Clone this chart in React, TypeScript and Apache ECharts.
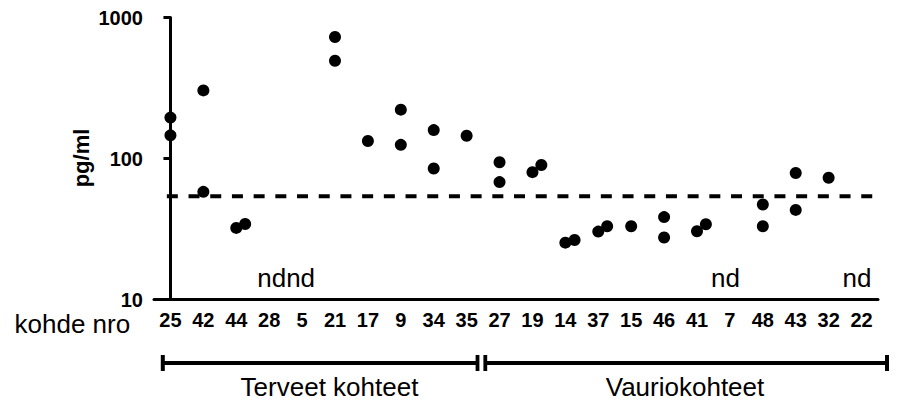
import React, { useEffect, useRef } from "react";
import * as echarts from "echarts";

const categories = ["25", "42", "44", "28", "5", "21", "17", "9", "34", "35", "27", "19", "14", "37", "15", "46", "41", "7", "48", "43", "32", "22"];
const pointSite = ["25", "25", "42", "42", "44", "44", "21", "21", "17", "9", "9", "34", "34", "35", "27", "27", "19", "19", "14", "14", "37", "37", "15", "46", "46", "41", "41", "48", "48", "43", "43", "32"];
const pointValue = [195, 146, 304, 58, 32.2, 34.3, 728, 494, 133, 222, 125, 159, 85, 145, 94, 68, 80, 90, 25.3, 26.4, 30.3, 33.1, 33.1, 38.4, 27.5, 30.5, 34.2, 47.2, 33.1, 79, 43.2, 73];
const pointJitter = [0, 0, 0, 0, 0, 0.27, 0, 0, 0, 0, 0, 0, 0, 0, 0, 0, 0, 0.27, 0, 0.28, 0, 0.27, 0, 0, 0, 0, 0.27, 0, 0, 0, 0, 0];
const ndSites = ["28", "5", "7", "22"];
const detectionLimit = 54;
const groupNames = ["Terveet kohteet", "Vauriokohteet"];

const FONT = "'Liberation Sans', Arial, Helvetica, sans-serif";

export default function App() {
  const ref = useRef<HTMLDivElement>(null);
  useEffect(() => {
    if (!ref.current) return;
    const chart = echarts.init(ref.current, null, { renderer: "svg" });
    const points = pointSite.map((s, i) => [categories.indexOf(s) + pointJitter[i], pointValue[i]]);
    const ndShift = [2.5, -1.5, -4.5, -4.5];
    const nd = ndSites.map((s, i) => ({
      value: [categories.indexOf(s), 14.1],
      label: { offset: [ndShift[i], 0] },
    }));
    const lastIdx = categories.length - 1;
    chart.setOption({
      animation: false,
      grid: { left: 154, right: 25, top: 17.5, bottom: 102.5, outerBoundsMode: "none" },
      xAxis: [
        {
          type: "category",
          data: categories,
          boundaryGap: true,
          axisLine: { lineStyle: { color: "#000", width: 3 } },
          axisTick: { alignWithLabel: true, length: 6, lineStyle: { color: "#000", width: 2.5 } },
          axisLabel: { color: "#000", fontFamily: FONT, fontWeight: "bold", fontSize: 20, margin: 10, interval: 0 },
          splitLine: { show: false },
        },
        {
          type: "value",
          min: -0.5,
          max: lastIdx + 0.5,
          show: false,
          splitLine: { show: false },
        },
      ],
      yAxis: {
        type: "log",
        logBase: 10,
        min: 10,
        max: 1000,
        splitNumber: 2,
        axisLine: { show: true, lineStyle: { color: "#000", width: 3 } },
        axisTick: { show: true, length: 7, lineStyle: { color: "#000", width: 3 } },
        minorTick: { show: false },
        axisLabel: {
          color: "#000",
          fontFamily: FONT,
          fontWeight: "bold",
          fontSize: 20,
          margin: 11,
          formatter: (v: number) => String(Math.round(v)),
        },
        splitLine: { show: false },
      },
      series: [
        {
          type: "line",
          xAxisIndex: 1,
          data: [[-0.11, detectionLimit], [lastIdx + 0.5, detectionLimit]],
          symbol: "none",
          lineStyle: { color: "#000", width: 4, type: [11, 10.7] },
          z: 2,
        },
        {
          type: "scatter",
          xAxisIndex: 1,
          data: points,
          symbol: "circle",
          symbolSize: 12,
          itemStyle: { color: "#000", opacity: 1 },
          z: 3,
        },
        {
          type: "scatter",
          xAxisIndex: 1,
          data: nd,
          symbolSize: 0,
          itemStyle: { color: "rgba(0,0,0,0)", opacity: 1 },
          label: {
            show: true,
            position: "inside",
            formatter: "nd",
            color: "#000",
            fontFamily: FONT,
            fontSize: 26,
          },
          z: 3,
        },
      ],
      graphic: [
        {
          type: "text",
          x: 81,
          y: 158,
          rotation: Math.PI / 2,
          style: { text: "pg/ml", font: `bold 22px ${FONT}`, fill: "#000", align: "center", verticalAlign: "middle" },
        },
        {
          type: "text",
          x: 14.5,
          y: 324,
          style: { text: "kohde nro", font: `26px ${FONT}`, fill: "#000", align: "left", verticalAlign: "middle" },
        },
        {
          type: "text",
          x: 329.5,
          y: 387,
          style: { text: groupNames[0], font: `26px ${FONT}`, fill: "#000", align: "center", verticalAlign: "middle" },
        },
        {
          type: "text",
          x: 685,
          y: 387,
          style: { text: groupNames[1], font: `26px ${FONT}`, fill: "#000", align: "center", verticalAlign: "middle" },
        },
        { type: "line", shape: { x1: 162.8, y1: 363, x2: 477.5, y2: 363 }, style: { stroke: "#000", lineWidth: 4 } },
        { type: "line", shape: { x1: 485.3, y1: 363, x2: 887, y2: 363 }, style: { stroke: "#000", lineWidth: 4 } },
        { type: "rect", shape: { x: 160.8, y: 355, width: 4, height: 16 }, style: { fill: "#000" } },
        { type: "rect", shape: { x: 475.6, y: 355, width: 3.8, height: 16 }, style: { fill: "#000" } },
        { type: "rect", shape: { x: 483.4, y: 355, width: 3.8, height: 16 }, style: { fill: "#000" } },
        { type: "rect", shape: { x: 885, y: 355, width: 4, height: 16 }, style: { fill: "#000" } },
      ],
    });
    return () => chart.dispose();
  }, []);
  return <div ref={ref} style={{ position: "absolute", left: 0, top: 0, width: 903, height: 402 }} />;
}
